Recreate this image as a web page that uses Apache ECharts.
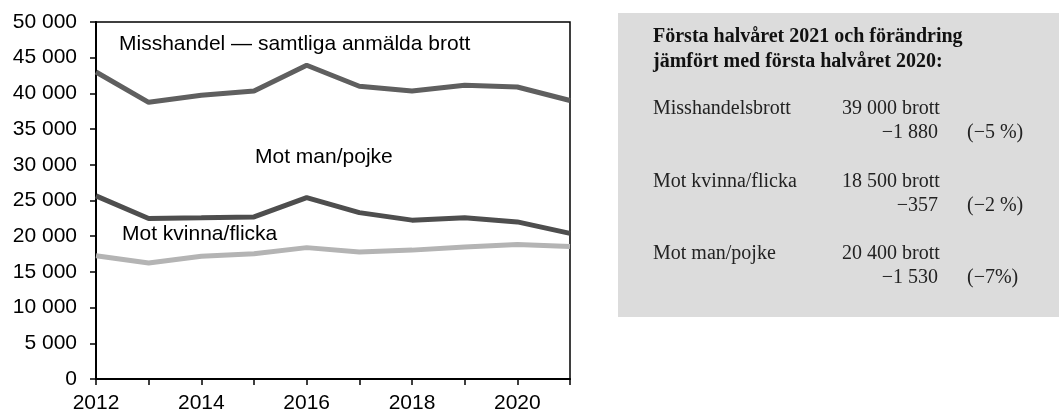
<!DOCTYPE html>
<html>
<head>
<meta charset="utf-8">
<script src="https://cdn.jsdelivr.net/npm/echarts@6/dist/echarts.min.js"></script>
<style>
  html, body { margin: 0; padding: 0; background: #fff; }
  #chart { width: 1059px; height: 412px; }
</style>
</head>
<body>
<div id="chart"></div>
<script>
var years = ['2012', '2013', '2014', '2015', '2016', '2017', '2018', '2019', '2020', '2021'];
var samtliga = [43000, 38750, 39750, 40350, 43950, 41000, 40350, 41150, 40900, 39000];
var motMan = [25650, 22480, 22570, 22700, 25400, 23300, 22250, 22600, 22000, 20400];
var motKvinna = [17250, 16250, 17200, 17550, 18400, 17800, 18050, 18500, 18830, 18550];
var yTicks = [0, 5000, 10000, 15000, 20000, 25000, 30000, 35000, 40000, 45000, 50000];

var boxTitle = ['Första halvåret 2021 och förändring', 'jämfört med första halvåret 2020:'];
var boxRows = [
  ['Misshandelsbrott', '39 000 brott', '\u22121 880', '(\u22125 %)'],
  ['Mot kvinna/flicka', '18 500 brott', '\u2212357', '(\u22122 %)'],
  ['Mot man/pojke', '20 400 brott', '\u22121 530', '(\u22127%)']
];

(function() {
  var sans = '"Liberation Sans", Arial, sans-serif';
  var serif = '"Liberation Serif", "Times New Roman", serif';

  function fmt(v) {
    return String(v).replace(/\B(?=(\d{3})+(?!\d))/g, ' ');
  }

  // --- text box on the right ---
  var graphics = [
    { type: 'rect', shape: { x: 618, y: 13, width: 441, height: 304 }, style: { fill: '#dcdcdc' }, silent: true }
  ];
  boxTitle.forEach(function(t, i) {
    graphics.push({
      type: 'text', x: 653, y: 37 + i * 25,
      style: { text: t, font: 'bold 20px ' + serif, fill: '#111', textVerticalAlign: 'middle' }
    });
  });
  boxRows.forEach(function(r, i) {
    var y0 = 109 + i * 72.5;
    graphics.push({ type: 'text', x: 653, y: y0, style: { text: r[0], font: '20px ' + serif, fill: '#222', textVerticalAlign: 'middle' } });
    graphics.push({ type: 'text', x: 842, y: y0, style: { text: r[1], font: '20px ' + serif, fill: '#222', textVerticalAlign: 'middle' } });
    graphics.push({ type: 'text', x: 938, y: y0 + 24, style: { text: r[2], font: '20px ' + serif, fill: '#222', textAlign: 'right', textVerticalAlign: 'middle' } });
    graphics.push({ type: 'text', x: 967, y: y0 + 24, style: { text: r[3], font: '20px ' + serif, fill: '#222', textVerticalAlign: 'middle' } });
  });

  // --- series labels inside plot ---
  graphics.push({ type: 'text', x: 119, y: 44, style: { text: 'Misshandel \u2014 samtliga anmälda brott', font: '21px ' + sans, fill: '#000', textVerticalAlign: 'middle' } });
  graphics.push({ type: 'text', x: 255, y: 157, style: { text: 'Mot man/pojke', font: '21px ' + sans, fill: '#000', textVerticalAlign: 'middle' } });
  graphics.push({ type: 'text', x: 122, y: 234, style: { text: 'Mot kvinna/flicka', font: '21px ' + sans, fill: '#000', textVerticalAlign: 'middle' } });

  var chart = echarts.init(document.getElementById('chart'), null, { renderer: 'canvas' });
  chart.setOption({
    animation: false,
    backgroundColor: '#fff',
    grid: {
      left: 96, right: 489, top: 22, bottom: 33,
      outerBoundsMode: 'none',
      show: true, borderColor: '#000', borderWidth: 1.5
    },
    xAxis: {
      type: 'category',
      data: years,
      boundaryGap: false,
      axisLine: { lineStyle: { color: '#000', width: 2 } },
      axisTick: { show: true, interval: 0, length: 6, lineStyle: { color: '#000', width: 1.5 } },
      axisLabel: { interval: 1, color: '#000', fontSize: 21, fontFamily: sans, margin: 14 },
      splitLine: { show: false }
    },
    yAxis: {
      type: 'value',
      min: yTicks[0],
      max: yTicks[yTicks.length - 1],
      interval: yTicks[1] - yTicks[0],
      axisLine: { show: true, lineStyle: { color: '#000', width: 2 } },
      axisTick: { show: true, length: 6, lineStyle: { color: '#000', width: 1.5 } },
      axisLabel: { color: '#000', fontSize: 21, fontFamily: sans, margin: 19, formatter: fmt },
      splitLine: { show: false }
    },
    series: [
      { name: 'Samtliga', type: 'line', data: samtliga, symbol: 'none', lineStyle: { color: '#5f5f5f', width: 5 } },
      { name: 'Mot man/pojke', type: 'line', data: motMan, symbol: 'none', lineStyle: { color: '#4e4e4e', width: 5 } },
      { name: 'Mot kvinna/flicka', type: 'line', data: motKvinna, symbol: 'none', lineStyle: { color: '#b4b4b4', width: 5 } }
    ],
    graphic: graphics
  });
  window.addEventListener('resize', function() { chart.resize(); });
})();
</script>
</body>
</html>
